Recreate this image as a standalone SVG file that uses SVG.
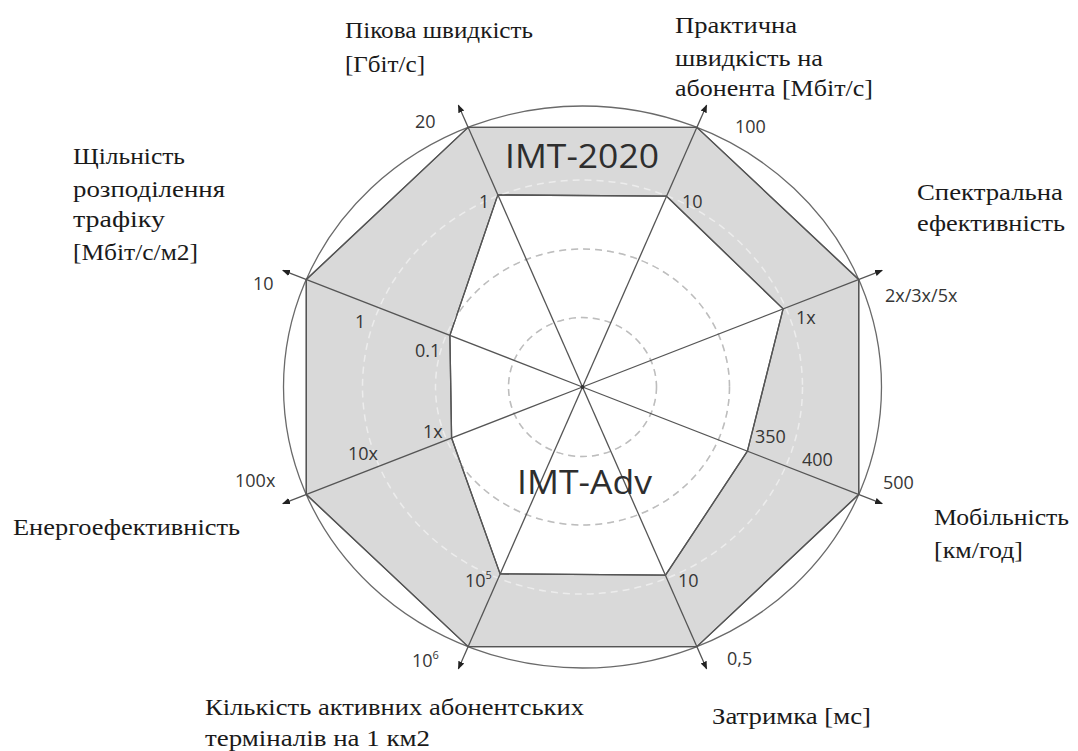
<svg xmlns="http://www.w3.org/2000/svg" width="1078" height="751" viewBox="0 0 1078 751">
  <style>
    .axis { stroke: #555; stroke-width: 1.3; fill: none; }
    .ring { fill: none; stroke: #6a6a6a; stroke-width: 1.3; }
    .grid { fill: none; stroke-width: 1.5; stroke-dasharray: 7 5; }
    .band { fill: #d9d9d9; fill-rule: evenodd; stroke: #555; stroke-width: 1.3; stroke-linejoin: round; }
    .num { font-family: "Open Sans", "Liberation Sans", sans-serif; font-size: 18px; fill: #363636; }
    .sup { font-size: 11px; }
    .big { font-family: "Open Sans", "Liberation Sans", sans-serif; font-size: 32px; fill: #2e2e2e; }
    .cap { font-family: "Liberation Serif", "DejaVu Serif", serif; font-size: 23px; fill: #1a1a1a; }
  </style>
  <defs>
    <marker id="arrow" viewBox="0 0 10 10" refX="9" refY="5" markerWidth="8" markerHeight="8" orient="auto" markerUnits="userSpaceOnUse">
      <path d="M0,1 L10,5 L0,9 Z" fill="#222"/>
    </marker>
    <clipPath id="innerArea">
      <polygon points="497.8,194.9 666.6,196.2 783.1,308.9 747.4,451.2 665.5,575.2 500.1,573.9 451.6,438 449.9,335.4"/>
    </clipPath>
  </defs>

  <rect width="1078" height="751" fill="#ffffff"/>

  <!-- outer boundary ring -->
  <ellipse class="ring" cx="582.5" cy="387" rx="299" ry="281"/>

  <!-- shaded band between the IMT-2020 and IMT-Advanced octagons -->
  <g id="band">
    <path class="band" d="M468.1,127.4 L696.9,127.4 L858.7,279.5 L858.7,494.5 L696.9,646.6 L468.1,646.6 L306.3,494.5 L306.3,279.5 Z
             M497.8,194.9 L666.6,196.2 L783.1,308.9 L747.4,451.2 L665.5,575.2 L500.1,573.9 L451.6,438 L449.9,335.4 Z"/>
  </g>

  <!-- dashed reference rings: faint over the band, grey inside the inner octagon -->
  <g id="grid">
    <g stroke="#ececec" class="grid">
      <ellipse cx="582.5" cy="387" rx="74" ry="69.5"/>
      <ellipse cx="582.5" cy="387" rx="147" ry="138"/>
      <ellipse cx="582.5" cy="387" rx="220" ry="207"/>
    </g>
    <g stroke="#bdbdbd" class="grid" clip-path="url(#innerArea)">
      <ellipse cx="582.5" cy="387" rx="74" ry="69.5"/>
      <ellipse cx="582.5" cy="387" rx="147" ry="138"/>
      <ellipse cx="582.5" cy="387" rx="220" ry="207"/>
    </g>
  </g>

  <!-- band outlines redrawn above the grid -->
  <path class="band" style="fill:none" d="M468.1,127.4 L696.9,127.4 L858.7,279.5 L858.7,494.5 L696.9,646.6 L468.1,646.6 L306.3,494.5 L306.3,279.5 Z
           M497.8,194.9 L666.6,196.2 L783.1,308.9 L747.4,451.2 L665.5,575.2 L500.1,573.9 L451.6,438 L449.9,335.4 Z"/>

  <!-- axes -->
  <g id="connectors">
    <line class="axis" x1="582.5" y1="387" x2="458.4" y2="105.3" marker-end="url(#arrow)"/>
    <line class="axis" x1="582.5" y1="387" x2="706.6" y2="105.3" marker-end="url(#arrow)"/>
    <line class="axis" x1="582.5" y1="387" x2="882.2" y2="270.3" marker-end="url(#arrow)"/>
    <line class="axis" x1="582.5" y1="387" x2="882.2" y2="503.7" marker-end="url(#arrow)"/>
    <line class="axis" x1="582.5" y1="387" x2="706.6" y2="668.7" marker-end="url(#arrow)"/>
    <line class="axis" x1="582.5" y1="387" x2="458.4" y2="668.7" marker-end="url(#arrow)"/>
    <line class="axis" x1="582.5" y1="387" x2="282.8" y2="503.7" marker-end="url(#arrow)"/>
    <line class="axis" x1="582.5" y1="387" x2="282.8" y2="270.3" marker-end="url(#arrow)"/>
  </g>
  <circle cx="582.5" cy="387" r="2" fill="#333"/>

  <!-- series titles -->
  <text class="big" x="505" y="168" textLength="154" lengthAdjust="spacingAndGlyphs">IMT-2020</text>
  <text class="big" x="517" y="494" textLength="135" lengthAdjust="spacingAndGlyphs">IMT-Adv</text>

  <!-- peak data rate -->
  <g id="peak-rate">
    <text class="cap" x="345" y="38" textLength="188" lengthAdjust="spacingAndGlyphs">Пікова швидкість</text>
    <text class="cap" x="345" y="72" textLength="80" lengthAdjust="spacingAndGlyphs">[Гбіт/с]</text>
    <text class="num" x="415" y="128">20</text>
    <text class="num" x="479" y="208">1</text>
  </g>

  <!-- user experienced data rate -->
  <g id="user-rate">
    <text class="cap" x="675" y="33" textLength="122" lengthAdjust="spacingAndGlyphs">Практична</text>
    <text class="cap" x="675" y="66" textLength="148" lengthAdjust="spacingAndGlyphs">швидкість на</text>
    <text class="cap" x="675" y="96" textLength="198" lengthAdjust="spacingAndGlyphs">абонента [Мбіт/с]</text>
    <text class="num" x="735" y="133">100</text>
    <text class="num" x="682" y="208">10</text>
  </g>

  <!-- spectrum efficiency -->
  <g id="spectral">
    <text class="cap" x="917" y="200" textLength="146" lengthAdjust="spacingAndGlyphs">Спектральна</text>
    <text class="cap" x="917" y="231" textLength="148" lengthAdjust="spacingAndGlyphs">ефективність</text>
    <text class="num" x="885" y="302">2x/3x/5x</text>
    <text class="num" x="796" y="324">1x</text>
  </g>

  <!-- mobility -->
  <g id="mobility">
    <text class="cap" x="934" y="525" textLength="135" lengthAdjust="spacingAndGlyphs">Мобільність</text>
    <text class="cap" x="934" y="558" textLength="89" lengthAdjust="spacingAndGlyphs">[км/год]</text>
    <text class="num" x="883" y="489">500</text>
    <text class="num" x="802" y="466">400</text>
    <text class="num" x="755" y="443">350</text>
  </g>

  <!-- latency -->
  <g id="latency">
    <text class="cap" x="712" y="724" textLength="159" lengthAdjust="spacingAndGlyphs">Затримка [мс]</text>
    <text class="num" x="727" y="665">0,5</text>
    <text class="num" x="678" y="587">10</text>
  </g>

  <!-- connection density -->
  <g id="density">
    <text class="cap" x="205" y="715" textLength="379" lengthAdjust="spacingAndGlyphs">Кількість активних абонентських</text>
    <text class="cap" x="205" y="746" textLength="225" lengthAdjust="spacingAndGlyphs">терміналів на 1 км2</text>
    <text class="num" x="412" y="667">10<tspan class="sup" dy="-8">6</tspan></text>
    <text class="num" x="465" y="587">10<tspan class="sup" dy="-8">5</tspan></text>
  </g>

  <!-- energy efficiency -->
  <g id="energy">
    <text class="cap" x="13" y="535" textLength="227" lengthAdjust="spacingAndGlyphs">Енергоефективність</text>
    <text class="num" x="235" y="487">100x</text>
    <text class="num" x="348" y="460">10x</text>
    <text class="num" x="423" y="438">1x</text>
  </g>

  <!-- area traffic capacity -->
  <g id="traffic">
    <text class="cap" x="73" y="164" textLength="112" lengthAdjust="spacingAndGlyphs">Щільність</text>
    <text class="cap" x="73" y="197" textLength="152" lengthAdjust="spacingAndGlyphs">розподілення</text>
    <text class="cap" x="73" y="227" textLength="92" lengthAdjust="spacingAndGlyphs">трафіку</text>
    <text class="cap" x="73" y="260" textLength="125" lengthAdjust="spacingAndGlyphs">[Мбіт/с/м2]</text>
    <text class="num" x="253" y="290">10</text>
    <text class="num" x="355" y="328">1</text>
    <text class="num" x="415" y="357">0.1</text>
  </g>
</svg>
